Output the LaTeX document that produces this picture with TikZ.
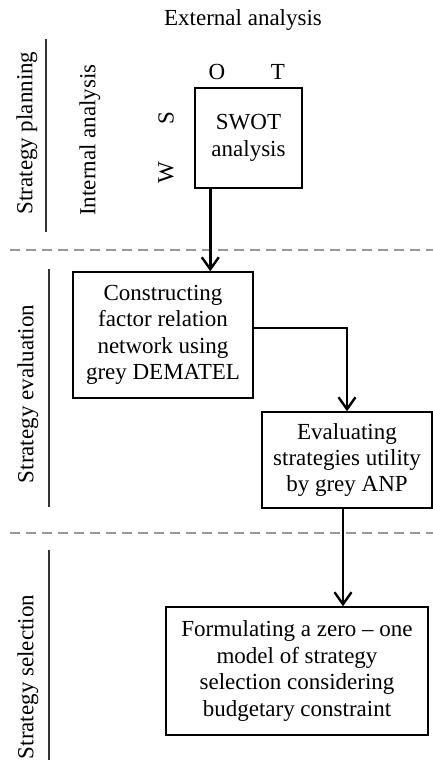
\documentclass[tikz,border=0pt]{standalone}
\usepackage{fontspec}
\setmainfont{Liberation Serif}
\usetikzlibrary{arrows.meta}

\begin{document}
\begin{tikzpicture}[x=0.5pt, y=-0.5pt,
    every node/.style={font=\fontsize{11.5}{13.2}\selectfont, inner sep=0pt},
    box/.style={draw, line width=0.7pt, align=center},
    flow/.style={line width=1.4pt, -{Straight Barb[length=6pt, width=8.5pt, line width=1.2pt]}},
    sep/.style={gray!80, line width=0.8pt, dash pattern=on 5pt off 3pt},
    sideline/.style={black!80, line width=0.6pt}]
    \useasboundingbox (0,0) rectangle (433,760);

    % Strategy planning
    \node (ext) at (243,20) {External analysis};
    \draw[sideline] (46,39) -- (46,232);
    \node[rotate=90] (plan) at (27,133) {Strategy planning};
    \node[rotate=90] (int) at (90,140) {Internal analysis};
    \node[box, minimum width=53.5pt, minimum height=50pt] (swot) at (248.5,138) {SWOT\\analysis};
    \node (o) at (217,72) {O};
    \node (t) at (278,72) {T};
    \node[rotate=90] (s) at (166,118) {S};
    \node[rotate=90] (w) at (166,173) {W};

    \draw[sep] (10,250) -- (433,250);

    % Strategy evaluation
    \draw[sideline] (49,269) -- (49,507);
    \node[rotate=90] (eval) at (28,394) {Strategy evaluation};
    \node[box, minimum width=90pt, minimum height=63pt] (dematel) at (163,335)
        {Constructing\\factor relation\\network using\\grey DEMATEL};
    \node[box, minimum width=85pt, minimum height=48pt] (anp) at (347,460)
        {Evaluating\\strategies utility\\by grey ANP};

    \draw[sep] (10,533) -- (433,533);

    % Strategy selection
    \draw[sideline] (49,550) -- (49,760);
    \node[rotate=90] (sel) at (28,677) {Strategy selection};
    \node[box, minimum width=131pt, minimum height=64pt] (model) at (297,671)
        {Formulating a zero -- one\\model of strategy\\selection considering\\budgetary constraint};

    % Arrows
    \draw[flow] ([xshift=8pt]swot.south west) -- ([xshift=8pt]swot.south west |- dematel.north);
    \draw[flow] ([yshift=3.5pt]dematel.east) -| (anp.north);
    \draw[flow] ([xshift=-2pt]anp.south) -- ([xshift=-2pt]anp.south |- model.north);
\end{tikzpicture}
\end{document}
